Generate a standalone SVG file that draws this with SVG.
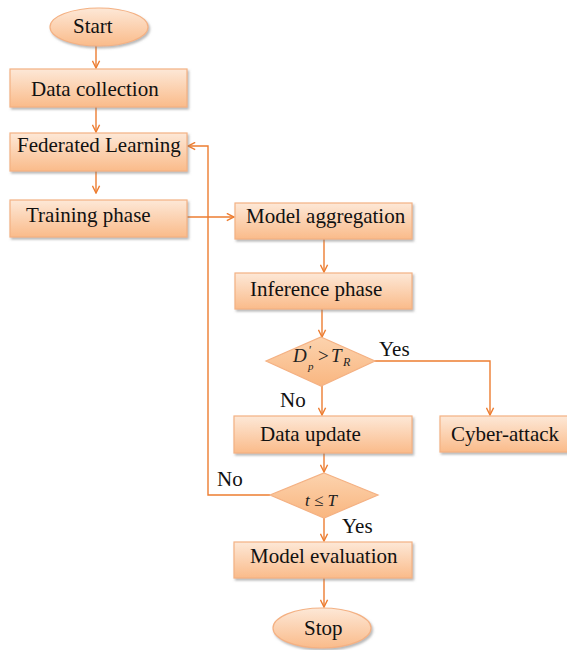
<svg xmlns="http://www.w3.org/2000/svg" width="567" height="650" viewBox="0 0 567 650">
  <defs>
    <linearGradient id="boxFill" x1="0" y1="0" x2="0" y2="1">
      <stop offset="0" stop-color="#fde8d7"/>
      <stop offset="1" stop-color="#fabb8a"/>
    </linearGradient>
    <linearGradient id="decFill" x1="0" y1="0" x2="0" y2="1">
      <stop offset="0" stop-color="#fcd3ae"/>
      <stop offset="1" stop-color="#f9b680"/>
    </linearGradient>
    <filter id="shadow" x="-10%" y="-20%" width="125%" height="160%">
      <feDropShadow dx="1.5" dy="2" stdDeviation="1.2" flood-color="#808080" flood-opacity="0.55"/>
    </filter>
    <marker id="arrow" viewBox="0 0 10 10" refX="9" refY="5" markerWidth="9" markerHeight="9" markerUnits="userSpaceOnUse" orient="auto">
      <path d="M1,1 L9,5 L1,9" fill="none" stroke="#ed7d31" stroke-width="1.6"/>
    </marker>
  </defs>
  <style>
    .box { fill: url(#boxFill); stroke: #f4b183; stroke-width: 1.2; filter: url(#shadow); }
    .dec { fill: url(#decFill); stroke: #f4b183; stroke-width: 1.2; }
    .label { font-family: "Liberation Serif", "Times New Roman", serif; font-size: 21px; fill: #111; }
    .math { font-family: "Liberation Serif", "Times New Roman", serif; font-style: italic; fill: #222; }
    .up { font-family: "Liberation Serif", "Times New Roman", serif; fill: #222; }
    .edge { fill: none; stroke: #ed7d31; stroke-width: 1.4; }
    .arr { marker-end: url(#arrow); }
  </style>

  <g id="connectors">
    <path class="edge arr" d="M96,46 V68"/>
    <path class="edge arr" d="M96,107 V132"/>
    <path class="edge arr" d="M96,171 V193"/>
    <path class="edge arr" d="M187,217 H234"/>
    <path class="edge arr" d="M270,495 H208 V146 H188"/>
    <path class="edge arr" d="M324,239 V272"/>
    <path class="edge arr" d="M322,309 V337"/>
    <path class="edge arr" d="M374,361 H490 V415"/>
    <path class="edge arr" d="M322,386 V415"/>
    <path class="edge arr" d="M324,453 V472"/>
    <path class="edge arr" d="M324,518 V541"/>
    <path class="edge arr" d="M324,578 V607"/>
  </g>

  <g id="start">
    <ellipse class="box" cx="99" cy="27" rx="49" ry="19"/>
    <text class="label" x="73" y="33">Start</text>
  </g>
  <g id="data-collection">
    <rect class="box" x="10" y="69" width="177" height="38"/>
    <text class="label" x="31" y="96">Data collection</text>
  </g>
  <g id="federated-learning">
    <rect class="box" x="10" y="133" width="177" height="38"/>
    <text class="label" x="17" y="152">Federated Learning</text>
  </g>
  <g id="training-phase">
    <rect class="box" x="10" y="200" width="177" height="37"/>
    <text class="label" x="26" y="222">Training phase</text>
  </g>
  <g id="model-aggregation">
    <rect class="box" x="235" y="203" width="177" height="36"/>
    <text class="label" x="246" y="223">Model aggregation</text>
  </g>
  <g id="inference-phase">
    <rect class="box" x="235" y="273" width="177" height="36"/>
    <text class="label" x="250" y="296">Inference phase</text>
  </g>
  <g id="threshold-check">
    <polygon class="dec" points="321,337 375,361 321,386 266,361"/>
    <!-- D'_p > T_R set piece by piece -->
    <text class="math" x="293" y="362" font-size="19">D</text>
    <text class="up" x="309" y="354" font-size="12">′</text>
    <text class="math" x="308" y="370" font-size="11">p</text>
    <text class="up" x="318" y="362" font-size="19">&gt;</text>
    <text class="math" x="331" y="362" font-size="19">T</text>
    <text class="math" x="343" y="366" font-size="12">R</text>
    <text class="label" x="379" y="356">Yes</text>
    <text class="label" x="280" y="407">No</text>
  </g>
  <g id="data-update">
    <rect class="box" x="234" y="416" width="178" height="37"/>
    <text class="label" x="260" y="441">Data update</text>
  </g>
  <g id="cyber-attack">
    <rect class="box" x="440" y="416" width="130" height="36"/>
    <text class="label" x="451" y="441">Cyber-attack</text>
  </g>
  <g id="round-check">
    <polygon class="dec" points="324,473 378,495 324,518 270,495"/>
    <text class="math" x="305" y="506" font-size="17">t <tspan font-style="normal">≤</tspan> T</text>
    <text class="label" x="217" y="486">No</text>
    <text class="label" x="342" y="533">Yes</text>
  </g>
  <g id="model-evaluation">
    <rect class="box" x="234" y="542" width="178" height="36"/>
    <text class="label" x="250" y="563">Model evaluation</text>
  </g>
  <g id="stop">
    <ellipse class="box" cx="322" cy="628" rx="49" ry="20"/>
    <text class="label" x="304" y="635">Stop</text>
  </g>
</svg>
